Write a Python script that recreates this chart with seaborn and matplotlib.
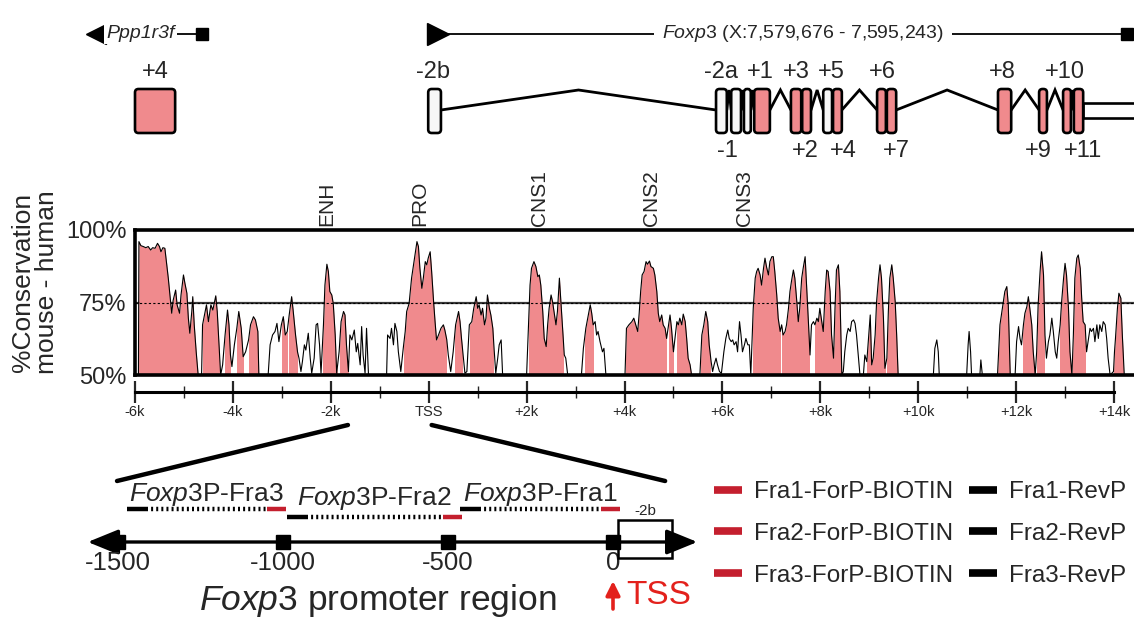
import numpy as np
import pandas as pd
import matplotlib
matplotlib.use("Agg")
import matplotlib.pyplot as plt
import seaborn as sns
from matplotlib.patches import Rectangle, FancyBboxPatch, ConnectionPatch, FancyArrowPatch
from matplotlib.lines import Line2D

# ---------------------------------------------------------------- data
# VISTA conservation profile (position relative to TSS in kb, % identity)
cons_kb = [
    -5.93, -5.92, -5.88, -5.83, -5.78, -5.73, -5.68, -5.64, -5.59, -5.54, -5.50, -5.47, -5.43, -5.39, -5.35, -5.32,
    -5.28, -5.25, -5.22, -5.17, -5.14, -5.09, -5.06, -5.01, -4.98, -4.94, -4.91, -4.88, -4.84, -4.82, -4.79, -4.75,
    -4.71, -4.64, -4.62, -4.58, -4.54, -4.50, -4.45, -4.41, -4.35, -4.32, -4.28, -4.25, -4.21, -4.16, -4.11, -4.08,
    -4.05, -4.02, -3.97, -3.92, -3.88, -3.83, -3.79, -3.74, -3.68, -3.64, -3.58, -3.54, -3.49, -3.47, -3.28, -3.24,
    -3.19, -3.14, -3.10, -3.06, -3.01, -2.97, -2.93, -2.89, -2.85, -2.80, -2.77, -2.72, -2.68, -2.65, -2.61, -2.58,
    -2.54, -2.51, -2.46, -2.42, -2.39, -2.34, -2.30, -2.27, -2.23, -2.20, -2.15, -2.12, -2.08, -2.05, -2.02, -1.98,
    -1.95, -1.91, -1.88, -1.83, -1.79, -1.74, -1.71, -1.68, -1.64, -1.61, -1.57, -1.52, -1.48, -1.45, -1.40, -1.37,
    -1.34, -1.30, -1.27, -1.23, -0.86, -0.84, -0.79, -0.76, -0.72, -0.69, -0.65, -0.62, -0.57, -0.52, -0.48, -0.45,
    -0.40, -0.35, -0.29, -0.24, -0.21, -0.18, -0.14, -0.11, -0.07, -0.04, -0.01, 0.03, 0.06, 0.10, 0.13, 0.16,
    0.20, 0.25, 0.30, 0.33, 0.37, 0.40, 0.45, 0.50, 0.55, 0.61, 0.64, 0.67, 0.71, 0.74, 0.78, 0.83,
    0.88, 0.92, 0.97, 1.00, 1.03, 1.07, 1.10, 1.14, 1.17, 1.20, 1.24, 1.27, 1.31, 1.34, 1.37, 1.41,
    1.44, 1.48, 1.51, 2.00, 2.04, 2.07, 2.10, 2.15, 2.19, 2.23, 2.26, 2.29, 2.33, 2.36, 2.40, 2.43,
    2.46, 2.50, 2.53, 2.57, 2.60, 2.63, 2.67, 2.70, 2.74, 2.77, 2.80, 2.84, 3.12, 3.16, 3.21, 3.26,
    3.30, 3.33, 3.36, 3.40, 3.43, 3.46, 3.50, 3.55, 3.58, 3.62, 4.01, 4.04, 4.09, 4.15, 4.19, 4.23,
    4.27, 4.30, 4.33, 4.36, 4.40, 4.44, 4.47, 4.51, 4.54, 4.59, 4.62, 4.66, 4.69, 4.72, 4.76, 4.79,
    4.83, 4.86, 4.90, 4.93, 4.96, 5.00, 5.03, 5.07, 5.10, 5.13, 5.17, 5.20, 5.24, 5.27, 5.30, 5.34,
    5.37, 5.54, 5.58, 5.62, 5.66, 5.70, 5.73, 5.77, 5.80, 5.83, 5.87, 5.90, 5.94, 5.98, 6.03, 6.07,
    6.11, 6.14, 6.18, 6.21, 6.24, 6.28, 6.31, 6.35, 6.38, 6.41, 6.45, 6.48, 6.52, 6.55, 6.58, 6.63,
    6.67, 6.70, 6.73, 6.77, 6.80, 6.84, 6.87, 6.90, 6.94, 6.97, 7.01, 7.04, 7.07, 7.11, 7.14, 7.18,
    7.21, 7.24, 7.28, 7.31, 7.35, 7.38, 7.41, 7.45, 7.48, 7.52, 7.55, 7.58, 7.62, 7.65, 7.69, 7.72,
    7.76, 7.79, 7.82, 7.86, 7.89, 7.93, 7.96, 7.99, 8.03, 8.06, 8.10, 8.13, 8.16, 8.20, 8.23, 8.27,
    8.30, 8.33, 8.37, 8.40, 8.44, 8.47, 8.50, 8.54, 8.57, 8.61, 8.64, 8.68, 8.71, 8.74, 8.78, 8.81,
    8.88, 8.91, 8.95, 8.98, 9.02, 9.05, 9.08, 9.12, 9.15, 9.19, 9.22, 9.25, 9.29, 9.32, 9.36, 9.39,
    9.42, 9.46, 9.49, 9.53, 9.56, 9.59, 10.31, 10.34, 10.38, 10.41, 10.43, 10.99, 11.02, 11.04, 11.07, 11.09,
    11.26, 11.28, 11.31, 11.62, 11.67, 11.71, 11.74, 11.77, 11.81, 11.84, 11.88, 11.98, 12.01, 12.05, 12.08, 12.11,
    12.15, 12.18, 12.22, 12.25, 12.28, 12.32, 12.35, 12.39, 12.42, 12.45, 12.49, 12.52, 12.56, 12.59, 12.62, 12.66,
    12.69, 12.73, 12.76, 12.80, 12.83, 12.86, 12.90, 12.93, 12.97, 13.00, 13.03, 13.07, 13.10, 13.14, 13.17, 13.20,
    13.24, 13.27, 13.31, 13.34, 13.37, 13.41, 13.44, 13.48, 13.51, 13.54, 13.58, 13.61, 13.65, 13.68, 13.71, 13.75,
    13.78, 13.82, 13.85, 13.88, 13.92, 13.99, 14.01, 14.03, 14.07, 14.10, 14.14, 14.17, 14.21,
]
cons_pct = [
    50.0, 96.0, 94.6, 94.3, 93.9, 94.3, 93.1, 93.9, 93.7, 95.4, 94.3, 92.5, 93.9, 93.7, 88.0, 83.4,
    76.5, 71.3, 75.8, 79.3, 74.2, 71.3, 77.6, 84.5, 81.6, 78.2, 69.6, 64.4, 71.9, 77.0, 67.3, 58.0,
    50.0, 50.0, 67.3, 70.7, 74.2, 68.4, 74.2, 72.4, 77.3, 71.9, 59.2, 50.0, 53.5, 63.8, 72.4, 67.3,
    56.9, 52.9, 60.4, 66.1, 71.9, 66.1, 56.3, 58.0, 62.1, 67.3, 70.1, 69.0, 65.0, 50.0, 50.0, 60.4,
    63.8, 65.0, 67.8, 61.5, 67.3, 70.1, 63.8, 65.0, 70.7, 77.0, 72.4, 63.8, 58.0, 55.8, 51.2, 54.6,
    60.4, 58.6, 64.4, 55.8, 50.6, 55.8, 67.3, 67.8, 60.4, 50.6, 67.3, 81.0, 88.2, 85.7, 78.8, 77.6,
    74.7, 63.8, 50.6, 58.0, 68.4, 71.9, 70.7, 60.4, 51.2, 63.8, 62.1, 65.5, 58.0, 60.9, 53.5, 66.7,
    56.9, 50.6, 66.1, 50.0, 50.0, 63.8, 62.6, 66.1, 60.4, 67.8, 65.0, 58.0, 51.2, 59.2, 65.0, 71.9,
    74.7, 83.4, 90.3, 96.0, 94.3, 86.8, 79.9, 83.4, 89.1, 88.0, 90.3, 92.5, 85.7, 75.3, 68.4, 62.1,
    63.8, 66.1, 67.3, 65.5, 62.1, 56.9, 51.2, 58.0, 67.3, 71.9, 68.4, 62.6, 55.8, 50.6, 51.2, 67.3,
    68.4, 73.0, 77.0, 73.0, 74.2, 70.7, 73.0, 67.3, 69.6, 77.6, 73.0, 70.7, 66.1, 58.0, 50.6, 55.8,
    60.4, 62.1, 50.0, 50.0, 67.3, 81.0, 86.8, 89.1, 87.4, 83.9, 84.5, 81.0, 71.9, 62.6, 59.8, 67.3,
    73.0, 77.6, 75.3, 70.7, 67.3, 71.9, 83.4, 75.3, 65.0, 56.9, 55.8, 50.0, 50.0, 59.2, 66.1, 70.7,
    74.2, 71.3, 67.3, 68.4, 63.8, 65.0, 61.5, 58.0, 59.2, 50.0, 50.0, 66.1, 67.3, 68.4, 69.6, 67.3,
    65.0, 71.3, 78.8, 84.5, 85.7, 89.1, 88.2, 89.3, 87.4, 86.8, 84.5, 78.8, 71.3, 68.4, 70.7, 67.3,
    66.1, 62.6, 67.3, 70.7, 66.1, 58.0, 62.6, 68.4, 67.3, 69.6, 67.3, 71.0, 68.4, 62.6, 55.8, 53.5,
    50.0, 50.0, 63.8, 67.3, 71.9, 68.4, 60.4, 54.6, 51.2, 53.5, 55.8, 53.5, 51.2, 50.6, 58.0, 62.6,
    65.5, 62.6, 61.5, 62.1, 60.4, 61.5, 58.0, 68.4, 63.8, 58.0, 60.4, 62.6, 60.4, 60.4, 50.0, 73.0,
    83.4, 85.7, 86.8, 84.5, 81.0, 86.8, 90.3, 87.4, 84.5, 89.1, 90.8, 90.8, 85.7, 77.6, 69.6, 65.0,
    67.3, 63.8, 65.0, 67.3, 73.0, 78.8, 82.2, 86.2, 83.4, 75.3, 68.4, 73.0, 83.4, 86.8, 90.8, 81.0,
    67.3, 56.9, 67.3, 68.4, 67.3, 69.6, 68.4, 73.0, 68.4, 65.0, 78.8, 86.2, 85.7, 78.8, 63.8, 55.8,
    73.0, 86.2, 88.0, 78.8, 50.0, 51.2, 58.0, 63.8, 66.1, 65.0, 68.4, 69.0, 67.8, 63.8, 55.8, 50.0,
    50.0, 56.9, 54.6, 61.5, 70.7, 53.5, 55.8, 63.8, 75.3, 83.4, 88.0, 83.4, 69.6, 52.3, 55.8, 71.9,
    83.4, 88.0, 83.4, 75.3, 63.8, 50.0, 50.0, 59.2, 62.1, 58.0, 50.0, 50.0, 60.4, 65.0, 58.0, 50.0,
    50.0, 55.2, 50.0, 50.0, 67.3, 71.9, 75.3, 78.8, 80.5, 74.2, 50.0, 50.0, 61.5, 66.7, 62.6, 60.4,
    67.3, 71.3, 73.6, 77.0, 73.0, 67.3, 58.0, 50.0, 58.0, 74.2, 85.7, 92.5, 84.5, 63.8, 55.8, 61.5,
    63.8, 69.6, 65.0, 58.0, 55.8, 61.5, 67.3, 75.3, 83.4, 88.5, 84.5, 73.0, 58.0, 50.0, 63.8, 83.4,
    90.3, 91.4, 86.8, 76.5, 68.4, 67.3, 58.0, 62.6, 66.1, 65.0, 66.1, 61.5, 67.3, 62.6, 67.3, 65.0,
    68.4, 67.3, 62.6, 55.8, 50.0, 51.2, 58.0, 62.6, 73.0, 78.2, 76.5, 63.8, 50.0,
]
# conserved (shaded) intervals, kb
cns_start = [-5.93, -4.62, -4.16, -3.92, -3.67, -3.00, -2.85, -2.15, -1.81, -0.50, 0.54, 0.84, 2.04, 3.19, 4.04,
             4.90, 5.08, 5.57, 6.62, 7.22, 7.89, 8.25, 8.95, 9.36, 11.64, 12.15, 12.42, 12.90, 13.17, 14.01]
cns_end = [-4.71, -4.28, -4.06, -3.79, -3.47, -2.90, -2.70, -1.88, -1.65, 0.36, 0.69, 1.32, 2.75, 3.36, 4.85,
           5.00, 5.35, 5.74, 7.17, 7.77, 8.23, 8.44, 9.32, 9.59, 11.88, 12.39, 12.58, 13.14, 13.41, 14.19]
region_names = ["ENH", "PRO", "CNS1", "CNS2", "CNS3"]
region_kb = [-2.08, -0.18, 2.27, 4.56, 6.46]
ytick_vals = [50, 75, 100]
ytick_labels = ["50%", "75%", "100%"]
threshold_pct = 75
scale_ticks = [-6, -4, -2, 0, 2, 4, 6, 8, 10, 12, 14]
scale_labels = ["-6k", "-4k", "-2k", "TSS", "+2k", "+4k", "+6k", "+8k", "+10k", "+12k", "+14k"]
scale_minor = [-5, -3, -1, 1, 3, 5, 7, 9, 11, 13]

# gene structure (kb relative to Foxp3 TSS)
ppp_exon = (-6.00, -5.18)
foxp3_exon_start = [-0.01, 5.87, 6.18, 6.44, 6.65, 7.40, 7.63, 8.06, 8.26, 9.16, 9.36, 11.63, 12.47, 12.96, 13.18]
foxp3_exon_end = [0.25, 6.09, 6.38, 6.58, 6.97, 7.61, 7.81, 8.24, 8.44, 9.34, 9.55, 11.90, 12.63, 13.12, 13.37]
foxp3_exon_coding = [False, False, False, False, True, True, True, False, True, True, True, True, True, True, True]
utr3_start = 13.37
label_top = ["+4", "-2b", "-2a", "+1", "+3", "+5", "+6", "+8", "+10"]
label_top_kb = [-5.59, 0.09, 5.97, 6.77, 7.52, 8.22, 9.26, 11.71, 13.00]
label_bot = ["-1", "+2", "+4", "+7", "+9", "+11"]
label_bot_kb = [6.11, 7.69, 8.46, 9.55, 12.45, 13.37]
ppp_arrow_kb, ppp_end_kb = -6.80, -4.63
foxp3_arrow_kb, foxp3_end_kb = 0.19, 14.27
foxp3_title = r"$\mathit{Foxp3}$ (X:7,579,676 - 7,595,243)"
foxp3_title_kb = 7.65

# promoter zoom (bp relative to TSS)
zoom_kb = [-1.65, 0.06]
zoom_bp = [-1503, 158]
prom_ticks = [-1500, -1000, -500, 0]
prom_tick_labels = ["-1500", "-1000", "-500", "0"]
prom_axis_bp = (-1600, 264)
exon_2b_bp = (15, 179)
frag_names = ["Fra1", "Fra2", "Fra3"]
frag_start = [-464, -988, -1473]
frag_end = [21, -458, -991]

# ---------------------------------------------------------------- style
sns.set_theme(style="white")
plt.rcParams["font.family"] = ["Liberation Sans", "DejaVu Sans"]
plt.rcParams["mathtext.fontset"] = "custom"
plt.rcParams["mathtext.rm"] = "Liberation Sans"
plt.rcParams["mathtext.it"] = "Liberation Sans:italic"

PINK = "#F08A8D"
RED = "#C41F2E"
TSS_RED = "#E3211C"
W, H = 1134, 619
PX_PER_KB = 48.95
XL = -6 - 135 / PX_PER_KB
XR = -6 + (W - 135) / PX_PER_KB
PX_PER_BP = 0.33
BP_L = (0 - 613) / PX_PER_BP
BP_R = (W - 613) / PX_PER_BP


def box(l, t, r, b):
    return [l / W, 1 - b / H, (r - l) / W, (b - t) / H]


fig = plt.figure(figsize=(W / 100, H / 100), dpi=100)

# ---------------------------------------------------------------- conservation plot
ax = fig.add_axes(box(135, 230, W, 375))
df = pd.DataFrame({"kb": cons_kb, "pct": cons_pct})
ax.axhline(threshold_pct, color="#3a3a3a", lw=1.6, zorder=1)
for s, e in zip(cns_start, cns_end):
    poly = ax.fill_between(df["kb"], 50, df["pct"], color=PINK, lw=0, zorder=2)
    poly.set_clip_path(Rectangle((s, 50), e - s, 50, transform=ax.transData))
ax.axhline(threshold_pct, color="black", lw=0.8, ls=(0, (2, 2)), zorder=3)
sns.lineplot(data=df, x="kb", y="pct", ax=ax, color="black", lw=0.8, zorder=4,
             estimator=None, sort=False)
ax.set_xlim(-6, XR)
ax.set_ylim(50, 100)
ax.set_xticks([])
ax.set_yticks(ytick_vals)
ax.set_yticklabels(ytick_labels)
ax.tick_params(axis="y", length=0, pad=6, labelsize=17)
ax.set_xlabel("")
ax.set_ylabel("%Conservation\nmouse - human", fontsize=19, linespacing=1.0)
ax.yaxis.set_label_coords(-0.076, 0.64)
for side in ["top", "bottom", "left"]:
    ax.spines[side].set_linewidth(2.6)
    ax.spines[side].set_color("black")
ax.spines["right"].set_visible(False)
for name, kb in zip(region_names, region_kb):
    ax.annotate(name, (kb, 100), xytext=(0, 3), textcoords="offset points",
                rotation=90, ha="center", va="bottom", fontsize=15)

# ---------------------------------------------------------------- scale bar
axs = fig.add_axes(box(135, 378, W, 430))
axs.set_xlim(-6, XR)
axs.set_ylim(430, 378)
axs.patch.set_alpha(0)
for side in ["top", "left", "right"]:
    axs.spines[side].set_visible(False)
axs.spines["bottom"].set_position(("data", 392))
axs.spines["bottom"].set_bounds(scale_ticks[0], scale_ticks[-1])
axs.spines["bottom"].set_linewidth(2.2)
axs.spines["bottom"].set_color("black")
axs.set_xticks(scale_ticks)
axs.set_xticklabels(scale_labels)
axs.set_xticks(scale_minor, minor=True)
axs.tick_params(axis="x", which="major", direction="inout", length=16, width=1.6,
                labelsize=10.5, pad=1, bottom=True)
axs.tick_params(axis="x", which="minor", direction="inout", length=8, width=1.0, bottom=True)
axs.set_yticks([])

# ---------------------------------------------------------------- gene track
ag = fig.add_axes(box(0, 0, W, 165))
ag.set_xlim(XL, XR)
ag.set_ylim(165, 0)
ag.axis("off")
Y_ROW1 = 33.5
BOX_T, BOX_B, Y_JOIN, Y_PEAK = 89, 133, 110, 90
R_PX = 3.5


def exon(ax_, s, e, filled, t=BOX_T, b=BOX_B):
    r = min(R_PX, (e - s) * PX_PER_KB / 2.2)
    p = FancyBboxPatch((s, t), e - s, b - t,
                       boxstyle=f"round,pad=0,rounding_size={r / PX_PER_KB}",
                       mutation_aspect=PX_PER_KB, fc=PINK if filled else "#F7F7F7",
                       ec="black", lw=1.9, zorder=3)
    ax_.add_patch(p)


# row 1 : gene names
ag.plot([ppp_arrow_kb, ppp_end_kb], [Y_ROW1, Y_ROW1], color="black", lw=1.3, zorder=1)
ag.plot(ppp_arrow_kb, Y_ROW1, marker="<", ms=14, color="black", zorder=2)
ag.plot(ppp_end_kb, Y_ROW1, marker="s", ms=9, color="black", zorder=2)
ag.text(ppp_arrow_kb + 0.22, Y_ROW1, "Ppp1r3f", style="italic", fontsize=14,
        ha="left", va="center", zorder=3,
        bbox=dict(fc="white", ec="none", pad=1.5))
ag.plot([foxp3_arrow_kb, foxp3_end_kb], [Y_ROW1, Y_ROW1], color="black", lw=1.3, zorder=1)
ag.plot(foxp3_arrow_kb, Y_ROW1, marker=">", ms=16, color="black", zorder=2)
ag.plot(foxp3_end_kb, Y_ROW1, marker="s", ms=9, color="black", zorder=2)
ag.text(foxp3_title_kb, Y_ROW1, foxp3_title, fontsize=14, ha="center", va="center", zorder=3,
        bbox=dict(fc="white", ec="none", pad=6))

# row 2 : exons
exon(ag, ppp_exon[0], ppp_exon[1], True)
for i in range(len(foxp3_exon_start) - 1):
    a, b = foxp3_exon_end[i], foxp3_exon_start[i + 1]
    ag.plot([a, (a + b) / 2, b], [Y_JOIN, Y_PEAK, Y_JOIN], color="black", lw=2.0, zorder=2,
            solid_joinstyle="miter")
for s, e, c in zip(foxp3_exon_start, foxp3_exon_end, foxp3_exon_coding):
    exon(ag, s, e, c)
ag.add_patch(Rectangle((utr3_start, 103), XR + 1 - utr3_start, 15, fc="white", ec="black",
                       lw=1.9, zorder=2.5))
for t, kb in zip(label_top, label_top_kb):
    ag.text(kb, 72, t, fontsize=17, ha="center", va="center")
for t, kb in zip(label_bot, label_bot_kb):
    ag.text(kb, 151, t, fontsize=17, ha="center", va="center")

# ---------------------------------------------------------------- promoter panel
ap = fig.add_axes(box(0, 420, W, H))
ap.set_xlim(BP_L, BP_R)
ap.set_ylim(H, 420)
ap.axis("off")
Y_AX = 542
arr = FancyArrowPatch((prom_axis_bp[0], Y_AX), (prom_axis_bp[1], Y_AX),
                      arrowstyle="<|-|>,head_length=1.35,head_width=0.55", mutation_scale=14,
                      color="black", lw=2.4, zorder=2)
ap.add_patch(arr)
ap.plot(prom_ticks, [Y_AX] * len(prom_ticks), ls="none", marker="s", ms=10, color="black", zorder=3)
for t, lab in zip(prom_ticks, prom_tick_labels):
    ap.text(t, 563, lab, fontsize=18.5, ha="center", va="center")
ap.add_patch(Rectangle((exon_2b_bp[0], 520), exon_2b_bp[1] - exon_2b_bp[0], 38,
                       fc="none", ec="black", lw=1.8, zorder=4))
ap.text(sum(exon_2b_bp) / 2, 511, "-2b", fontsize=11, ha="center", va="center")

PRIMER_BP = 58
frag_y = [509, 517, 509]
label_y = [494, 498, 494]
for name, s, e, y, ly in zip(frag_names, frag_start, frag_end, frag_y, label_y):
    ap.plot([s, s + PRIMER_BP], [y, y], color="black", lw=3.2, solid_capstyle="butt", zorder=3)
    ap.plot([s + PRIMER_BP, e - PRIMER_BP], [y, y], color="black", lw=3.2,
            ls=(0, (0.45, 0.7)), solid_capstyle="butt", zorder=3)
    ap.plot([e - PRIMER_BP, e], [y, y], color=RED, lw=3.2, solid_capstyle="butt", zorder=3)
    ap.text((s + e) / 2, ly, r"$\mathit{Foxp3}$P-" + name, fontsize=19, ha="center", va="center")

ap.annotate("", xy=(0, 581), xytext=(0, 609),
            arrowprops=dict(arrowstyle="-|>,head_length=0.6,head_width=0.3", color=TSS_RED,
                            lw=2.6, mutation_scale=14, shrinkA=0, shrinkB=0))
ap.text(40, 595, "TSS", color=TSS_RED, fontsize=24, ha="left", va="center")
ap.text(-712, 610, r"$\mathit{Foxp3}$ promoter region", fontsize=25.5, ha="center", va="baseline")

for kb, bp in zip(zoom_kb, zoom_bp):
    con = ConnectionPatch(xyA=(kb, 425), coordsA=axs.transData, xyB=(bp, 481),
                          coordsB=ap.transData, lw=3.2, color="black")
    fig.add_artist(con)

handles = [Line2D([], [], color=RED, lw=5.5, solid_capstyle="butt") for _ in frag_names] + \
          [Line2D([], [], color="black", lw=5.5, solid_capstyle="butt") for _ in frag_names]
labels = [f"{n}-ForP-BIOTIN" for n in frag_names] + [f"{n}-RevP" for n in frag_names]
fig.legend(handles, labels, ncol=2, loc="upper left", bbox_to_anchor=(714 / W, 1 - 481 / H),
           frameon=False, fontsize=17.5, handlelength=1.15, handletextpad=0.5,
           columnspacing=0.65, labelspacing=0.82, borderpad=0, borderaxespad=0)

fig.savefig("out.png", dpi=100)
